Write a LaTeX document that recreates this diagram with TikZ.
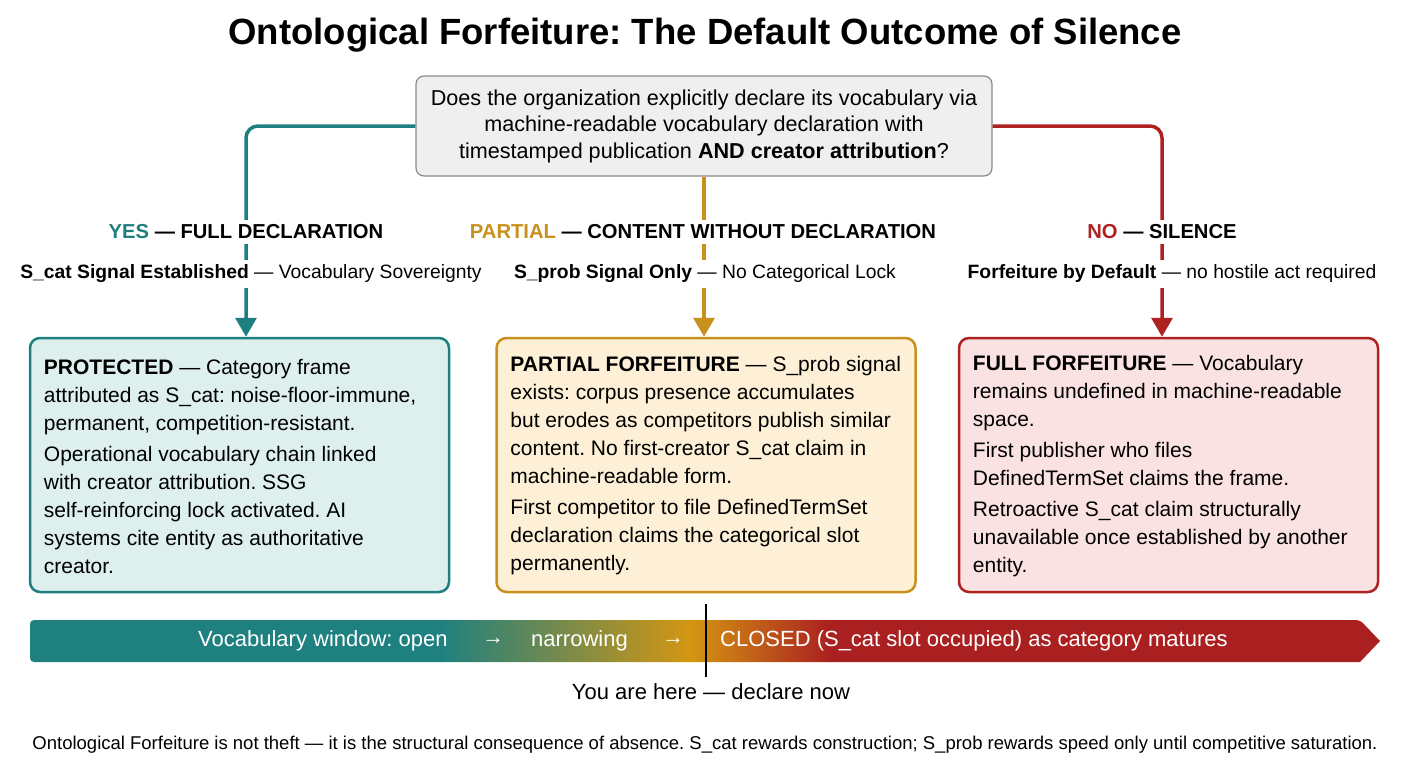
\documentclass[tikz,border=0pt]{standalone}
\usepackage{fontspec}
\setmainfont{Liberation Sans}
\usetikzlibrary{arrows.meta}
\definecolor{tealc}{HTML}{1E7F80}
\definecolor{goldc}{HTML}{C8901C}
\definecolor{redc}{HTML}{AE2222}
\definecolor{tealfill}{HTML}{DDF0EE}
\definecolor{goldfill}{HTML}{FDF0D6}
\definecolor{redfill}{HTML}{FAE2E2}
\definecolor{qfill}{HTML}{EFEFEF}
\definecolor{qdraw}{HTML}{8A8A8A}
\definecolor{bargold}{HTML}{D49612}
\definecolor{barred}{HTML}{AA1F1F}
\definecolor{barteal}{HTML}{1F8080}
\frenchspacing
\tikzset{
  qbox/.style={draw=qdraw, fill=qfill, line width=1.2, rounded corners=8, minimum width=576, minimum height=100, align=center, font=\fontsize{21.6}{26.5}\selectfont},
  outbox/.style={rounded corners=10, line width=2.5, minimum width=419, minimum height=254, inner sep=0},
  boxtext/.style={anchor=west, xshift=15pt, yshift=-1pt, align=left, inner sep=0, font=\fontsize{21}{28}\selectfont},
  branchlab/.style={fill=white, inner sep=5, font=\bfseries\fontsize{20.2}{24}\selectfont},
  sublab/.style={fill=white, inner sep=5, font=\fontsize{19.3}{22}\selectfont},
  flow/.style={line width=3.5, rounded corners=12, -{Triangle[length=19,width=21]}},
  bartext/.style={text=white, font=\fontsize{22}{26}\selectfont, anchor=west, inner sep=0}
}
\begin{document}
\begin{tikzpicture}[x=1pt,y=-1pt]
\useasboundingbox (0,0) rectangle (1408,768);
\node[font=\bfseries\fontsize{36.5}{42}\selectfont] (title) at (705,35) {Ontological Forfeiture: The Default Outcome of Silence};
\node[qbox] (q) at (704,126) {Does the organization explicitly declare its vocabulary via\\machine-readable vocabulary declaration with\\timestamped publication \textbf{AND creator attribution}?};

\node[outbox, draw=tealc, fill=tealfill] (pl) at (239.5,465) {};
\node[boxtext] (plt) at (pl.west) {\textbf{PROTECTED} — Category frame\\
attributed as S\_cat: noise-floor-immune,\\
permanent, competition-resistant.\\[3pt]
Operational vocabulary chain linked\\
with creator attribution. SSG\\
self-reinforcing lock activated. AI\\
systems cite entity as authoritative\\
creator.};
\node[outbox, draw=goldc, fill=goldfill] (pf) at (706,465) {};
\node[boxtext] (pft) at (pf.west) {\textbf{PARTIAL FORFEITURE} — S\_prob signal\\
exists: corpus presence accumulates\\
but erodes as competitors publish similar\\
content. No first-creator S\_cat claim in\\
machine-readable form.\\[3pt]
First competitor to file DefinedTermSet\\
declaration claims the categorical slot\\
permanently.};
\node[outbox, draw=redc, fill=redfill] (ff) at (1168.5,465) {};
\node[boxtext] (fft) at (ff.west) {\textbf{FULL FORFEITURE} — Vocabulary\\
remains undefined in machine-readable\\
space.\\[3pt]
First publisher who files\\
DefinedTermSet claims the frame.\\[3pt]
Retroactive S\_cat claim structurally\\
unavailable once established by another\\
entity.};

\coordinate (xl) at (246,0);
\coordinate (xr) at (1162,0);
\draw[flow, tealc] (q.west) -| (pl.north -| xl);
\draw[flow, goldc] (q.south) -- (pf.north -| q.south);
\draw[flow, redc] (q.east) -| (ff.north -| xr);

\node[branchlab] (yes) at (246,232) {\textcolor{tealc}{YES} — FULL DECLARATION};
\node[branchlab] (part) at (703,232) {\textcolor{goldc}{PARTIAL} — CONTENT WITHOUT DECLARATION};
\node[branchlab] (no) at (1162,232) {\textcolor{redc}{NO} — SILENCE};
\node[sublab] (yess) at (251,274) {\textbf{S\_cat Signal Established} — Vocabulary Sovereignty};
\node[sublab] (parts) at (705,274) {\textbf{S\_prob Signal Only} — No Categorical Lock};
\node[sublab] (nos) at (1172,274) {\textbf{Forfeiture by Default} — no hostile act required};

% timeline bar
\begin{scope}
\clip[rounded corners=4] (30,620) -- (1360,620) [sharp corners] -- (1380,641) -- (1360,662) [rounded corners=4] -- (30,662) -- cycle;
\fill[barteal] (28,618) rectangle (441,664);
\shade[left color=barteal, right color=bargold] (440,618) rectangle (691,664);
\shade[left color=bargold, right color=barred] (690,618) rectangle (831,664);
\fill[barred] (830,618) rectangle (1382,664);
\end{scope}
\node[bartext] (t1) at (198,641) {Vocabulary window: open};
\node[bartext] (t2) at (482,641) {→};
\node[bartext] (t3) at (531,641) {narrowing};
\node[bartext] (t4) at (662,641) {→};
\node[bartext] (t5) at (720,641) {CLOSED (S\_cat slot occupied) as category matures};
\coordinate (mtop) at (706,604);
\coordinate (mbot) at (706,677);
\draw[line width=2.5, black] (mtop) -- (mbot);
\node[font=\fontsize{22}{26}\selectfont] (here) at (711,692) {You are here — declare now};
\node[font=\fontsize{18.5}{22}\selectfont] (foot) at (705,745) {Ontological Forfeiture is not theft — it is the structural consequence of absence. S\_cat rewards construction; S\_prob rewards speed only until competitive saturation.};
\end{tikzpicture}
\end{document}
